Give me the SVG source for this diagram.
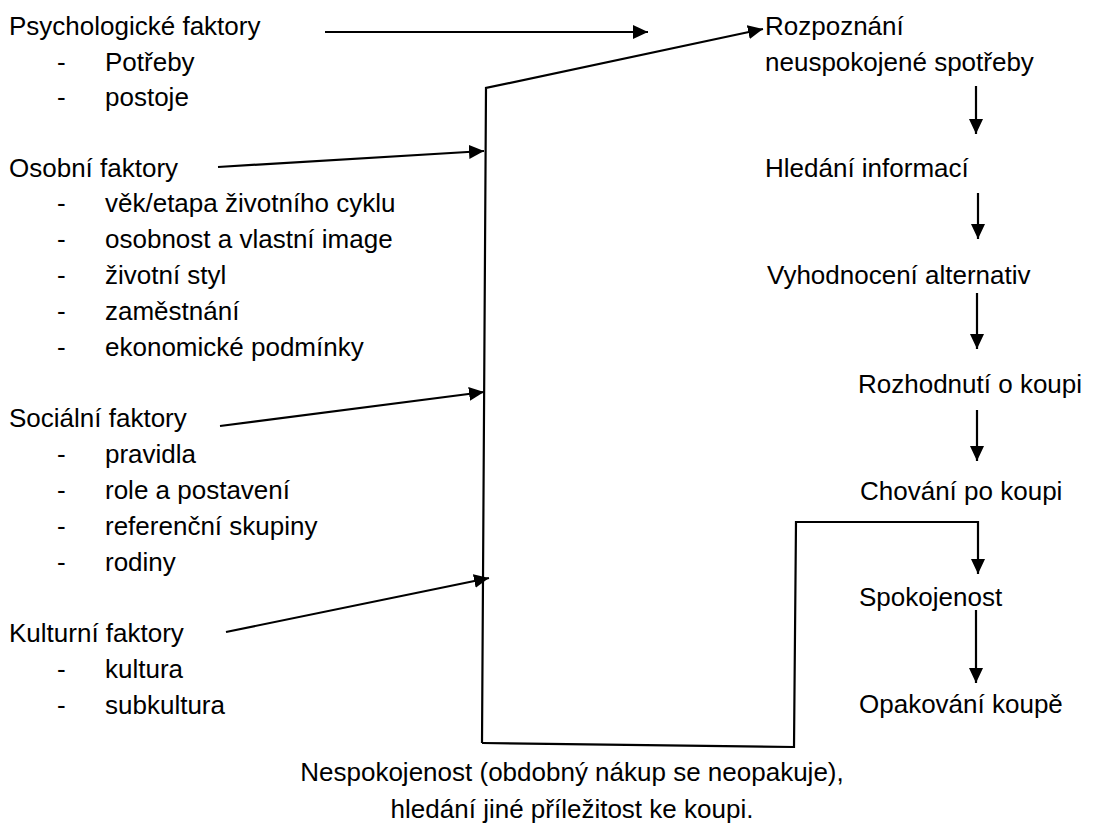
<svg xmlns="http://www.w3.org/2000/svg" width="1096" height="825" viewBox="0 0 1096 825">
<style>
text{font-family:"Liberation Sans",Arial,sans-serif;font-size:26px;fill:#000}
.c{fill:none;stroke:#000;stroke-width:2.2}
</style>
<defs>
<marker id="ah" markerUnits="userSpaceOnUse" markerWidth="16" markerHeight="14" refX="15" refY="7" orient="auto">
<path d="M0,0 L15,7 L0,14 z" fill="#000"/>
</marker>
</defs>
<rect width="1096" height="825" fill="#fff"/>
<g id="psych">
<text x="9" y="35">Psychologické faktory</text>
<text x="57" y="71">-</text><text x="105" y="71">Potřeby</text>
<text x="57" y="106">-</text><text x="105" y="106">postoje</text>
</g>
<g id="osobni">
<text x="9" y="177">Osobní faktory</text>
<text x="57" y="212">-</text><text x="105" y="212">věk/etapa životního cyklu</text>
<text x="57" y="248">-</text><text x="105" y="248">osobnost a vlastní image</text>
<text x="57" y="284">-</text><text x="105" y="284">životní styl</text>
<text x="57" y="320">-</text><text x="105" y="320">zaměstnání</text>
<text x="57" y="356">-</text><text x="105" y="356">ekonomické podmínky</text>
</g>
<g id="socialni">
<text x="9" y="427">Sociální faktory</text>
<text x="57" y="463">-</text><text x="105" y="463">pravidla</text>
<text x="57" y="499">-</text><text x="105" y="499">role a postavení</text>
<text x="57" y="535">-</text><text x="105" y="535">referenční skupiny</text>
<text x="57" y="571">-</text><text x="105" y="571">rodiny</text>
</g>
<g id="kulturni">
<text x="9" y="642">Kulturní faktory</text>
<text x="57" y="678">-</text><text x="105" y="678">kultura</text>
<text x="57" y="714">-</text><text x="105" y="714">subkultura</text>
</g>
<g id="rozpoznani">
<text x="765" y="35">Rozpoznání</text>
<text x="765" y="71">neuspokojené spotřeby</text>
</g>
<g id="hledani"><text x="765" y="177">Hledání informací</text></g>
<g id="vyhodnoceni"><text x="767" y="284">Vyhodnocení alternativ</text></g>
<g id="rozhodnuti"><text x="858" y="393">Rozhodnutí o koupi</text></g>
<g id="chovani"><text x="860" y="500">Chování po koupi</text></g>
<g id="spokojenost"><text x="859" y="606">Spokojenost</text></g>
<g id="opakovani"><text x="859" y="713">Opakování koupě</text></g>
<g id="nespokojenost">
<text x="572" y="781" text-anchor="middle">Nespokojenost (obdobný nákup se neopakuje),</text>
<text x="572" y="818" text-anchor="middle">hledání jiné příležitost ke koupi.</text>
</g>
<g id="connectors">
<line class="c" x1="325" y1="32" x2="648" y2="32" marker-end="url(#ah)"/>
<polyline class="c" points="482,743 486,88 763,29" marker-end="url(#ah)"/>
<line class="c" x1="218" y1="167" x2="484" y2="151" marker-end="url(#ah)"/>
<line class="c" x1="220" y1="426" x2="484" y2="392" marker-end="url(#ah)"/>
<line class="c" x1="226" y1="632" x2="489" y2="578" marker-end="url(#ah)"/>
<polyline class="c" points="482,743 794,747 796,522 978,522 978,574" marker-end="url(#ah)"/>
<line class="c" x1="976" y1="86" x2="976" y2="134" marker-end="url(#ah)"/>
<line class="c" x1="978" y1="193" x2="978" y2="239" marker-end="url(#ah)"/>
<line class="c" x1="977" y1="293" x2="977" y2="349" marker-end="url(#ah)"/>
<line class="c" x1="977" y1="410" x2="977" y2="461" marker-end="url(#ah)"/>
<line class="c" x1="976" y1="610" x2="976" y2="683" marker-end="url(#ah)"/>
</g>
</svg>
